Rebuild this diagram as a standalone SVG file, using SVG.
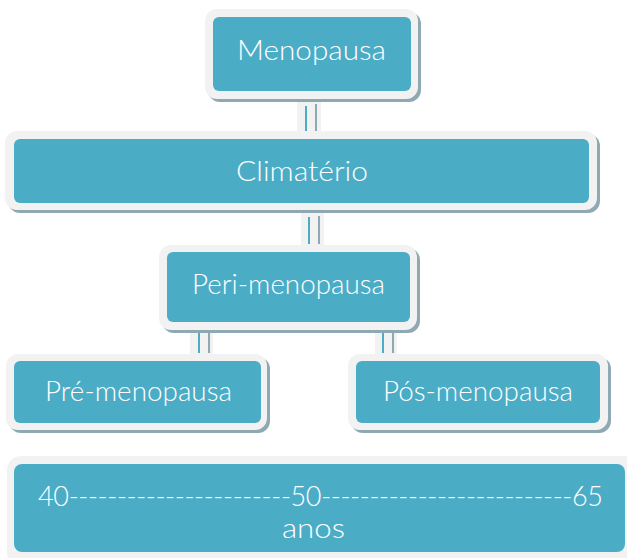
<svg xmlns="http://www.w3.org/2000/svg" width="627" height="558" viewBox="0 0 627 558">
<style>
.shadow{fill:#8fa9b3}
.frame{fill:#f2f2f2}
.inner{fill:#4bacc6}
.strip{fill:#f2f2f2}
.lb{stroke:#4bacc6;stroke-width:2}
.lg{stroke:#8fa9b3;stroke-width:2}
text{font-family:Lato,"Open Sans","Liberation Sans",sans-serif;font-weight:300;fill:#ffffff;text-anchor:middle;font-size:27px}
text.s{text-anchor:start}
</style>
<rect width="627" height="558" fill="#ffffff"/>
<g id="connectors">
  <rect class="strip" x="297" y="99" width="24" height="33"/>
  <line class="lb" x1="306" y1="106" x2="306" y2="131"/>
  <line class="lg" x1="316" y1="104" x2="316" y2="131"/>
  <rect class="strip" x="301" y="210" width="23" height="36"/>
  <line class="lb" x1="309" y1="217" x2="309" y2="244"/>
  <line class="lg" x1="319" y1="216" x2="319" y2="244"/>
  <rect class="strip" x="190" y="330" width="23" height="25"/>
  <line class="lb" x1="199" y1="333" x2="199" y2="353"/>
  <line class="lg" x1="209" y1="331" x2="209" y2="353"/>
  <rect class="strip" x="375" y="330" width="22" height="25"/>
  <line class="lb" x1="383" y1="333" x2="383" y2="353"/>
  <line class="lg" x1="393" y1="331" x2="393" y2="353"/>
</g>
<g id="menopausa">
  <rect class="shadow" x="208" y="12" width="213" height="90" rx="12"/>
  <rect class="frame" x="205" y="9" width="213" height="90" rx="12"/>
  <rect class="inner" x="213" y="17" width="198" height="74" rx="6"/>
  <text x="311.5" y="60" font-size="31" textLength="149" lengthAdjust="spacingAndGlyphs">Menopausa</text>
</g>
<g id="climaterio">
  <rect class="shadow" x="8" y="134" width="592" height="79" rx="12"/>
  <rect class="frame" x="5" y="131" width="592" height="79" rx="12"/>
  <rect class="inner" x="14" y="139" width="575" height="64" rx="6"/>
  <text x="302" y="181" font-size="29" textLength="132" lengthAdjust="spacingAndGlyphs">Climatério</text>
</g>
<g id="peri-menopausa">
  <rect class="shadow" x="162" y="248" width="258" height="85" rx="12"/>
  <rect class="frame" x="159" y="245" width="258" height="85" rx="12"/>
  <rect class="inner" x="167" y="252" width="243" height="70" rx="6"/>
  <text x="288.5" y="294" textLength="193" lengthAdjust="spacingAndGlyphs">Peri-menopausa</text>
</g>
<g id="pre-menopausa">
  <rect class="shadow" x="9" y="357" width="261" height="76" rx="12"/>
  <rect class="frame" x="6" y="354" width="261" height="76" rx="12"/>
  <rect class="inner" x="14" y="361" width="247" height="62" rx="6"/>
  <text x="138.5" y="401" textLength="187" lengthAdjust="spacingAndGlyphs">Pré-menopausa</text>
</g>
<g id="pos-menopausa">
  <rect class="shadow" x="351" y="357" width="260" height="76" rx="12"/>
  <rect class="frame" x="348" y="354" width="260" height="76" rx="12"/>
  <rect class="inner" x="356" y="361" width="244" height="62" rx="6"/>
  <text x="478" y="401" textLength="190" lengthAdjust="spacingAndGlyphs">Pós-menopausa</text>
</g>
<g id="anos">
  <rect class="shadow" x="10" y="459" width="640" height="110" rx="14"/>
  <rect class="frame" x="7" y="456" width="640" height="110" rx="14"/>
  <rect class="inner" x="14" y="464" width="611" height="88" rx="8"/>
  <text class="s" x="38" y="506" textLength="565" lengthAdjust="spacing">40-----------------------50--------------------------65</text>
  <text x="313.5" y="538" font-size="29" textLength="63" lengthAdjust="spacingAndGlyphs">anos</text>
</g>
</svg>
